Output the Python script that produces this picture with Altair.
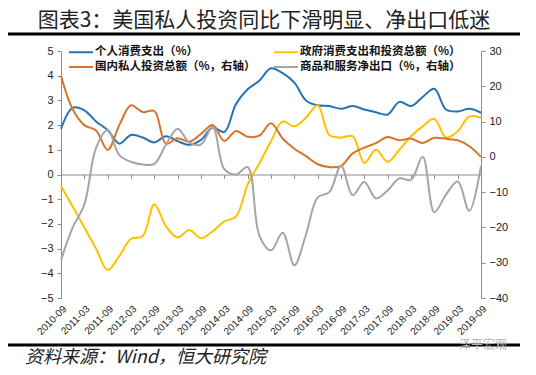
import altair as alt
import pandas as pd

title_text = "图表3：美国私人投资同比下滑明显、净出口低迷"
source_text = "资料来源：Wind，恒大研究院"
watermark_text = "泽平宏观"

dates = ["2010-09", "2010-12", "2011-03", "2011-06", "2011-09", "2011-12",
         "2012-03", "2012-06", "2012-09", "2012-12", "2013-03", "2013-06",
         "2013-09", "2013-12", "2014-03", "2014-06", "2014-09", "2014-12",
         "2015-03", "2015-06", "2015-09", "2015-12", "2016-03", "2016-06",
         "2016-09", "2016-12", "2017-03", "2017-06", "2017-09", "2017-12",
         "2018-03", "2018-06", "2018-09", "2018-12", "2019-03", "2019-06",
         "2019-09"]
tick_labels = ["2010-09", "2011-03", "2011-09", "2012-03", "2012-09", "2013-03",
               "2013-09", "2014-03", "2014-09", "2015-03", "2015-09", "2016-03",
               "2016-09", "2017-03", "2017-09", "2018-03", "2018-09", "2019-03",
               "2019-09"]
left_ticks = [-5, -4, -3, -2, -1, 0, 1, 2, 3, 4, 5]
right_ticks = [-40, -30, -20, -10, 0, 10, 20, 30]

s_pce = "个人消费支出（%）"
s_gov = "政府消费支出和投资总额（%）"
s_inv = "国内私人投资总额（%，右轴）"
s_net = "商品和服务净出口（%，右轴）"
# legend order (column-major): left column pce/inv, right column gov/net
legend_order = [s_pce, s_inv, s_gov, s_net]
legend_colors = ["#2473B8", "#D8732A", "#FFC000", "#A5A5A5"]

pce = [1.85, 2.7, 2.6, 2.15, 1.8, 1.25, 1.6, 1.5, 1.3, 1.55, 1.35, 1.2, 1.4,
       1.9, 1.72, 2.85, 3.45, 3.8, 4.3, 4.1, 3.72, 3.0, 2.8, 2.77, 2.66, 2.77,
       2.63, 2.52, 2.43, 2.94, 2.77, 3.14, 3.47, 2.63, 2.55, 2.66, 2.5]
gov = [-0.47, -1.3, -2.15, -3.0, -3.87, -3.3, -2.6, -2.5, -1.2, -2.1, -2.55,
       -2.25, -2.58, -2.3, -1.9, -1.7, -0.4, 0.45, 1.35, 2.15, 1.95, 2.3, 2.8,
       1.6, 1.5, 1.55, 0.47, 1.0, 0.52, 1.0, 1.55, 1.95, 2.25, 1.5, 1.75, 2.35,
       2.3]
inv = [23, 13.5, 9, 7.5, 2, 9, 14.6, 12.7, 13, 3.7, 5.3, 4.3, 6.5, 9, 4.5, 7.3,
       5.7, 6, 9.5, 5.2, 2.3, 0.2, -2.1, -2.9, -2.6, 1.0, 2.6, 3.9, 5.6, 4.7,
       5.2, 3.9, 5.4, 5.1, 4.7, 3.0, 0]
netexp = [-29.3, -20, -13.5, 2.5, 7.6, 0.5, -1.4, -2.2, -2.0, 3.5, 8.0, 4.0,
          3.5, 8.5, -3.5, -5.0, -2.9, -22.3, -26.5, -21.5, -30.7, -22, -11.5,
          -10, -2.5, -10.9, -7.1, -11.8, -9.5, -6.1, -6.5, 0, -15.7, -10.7, -7,
          -15.3, -2.5]

rows = []
for name, vals in [(s_pce, pce), (s_gov, gov), (s_inv, inv), (s_net, netexp)]:
    for d, v in zip(dates, vals):
        rows.append({"date": d, "series": name, "value": v})
df = pd.DataFrame(rows)

axis_col = "#8C8C8C"
num_font = "Liberation Sans"
cjk_font = "Noto Sans CJK SC"

x_enc = alt.X(
    "date:O", sort=dates,
    scale=alt.Scale(type="point", padding=0),
    axis=alt.Axis(values=tick_labels, labelAngle=-45, title=None, grid=False,
                  domainColor=axis_col, tickColor=axis_col, tickSize=4,
                  offset=-123.5, labelPadding=125, labelFont=num_font,
                  labelFontSize=10, labelColor="#222222"),
)
color_enc = alt.Color(
    "series:N",
    scale=alt.Scale(domain=legend_order, range=legend_colors),
    legend=alt.Legend(orient="none", legendX=14, legendY=-5, columns=2,
                      title=None, symbolType="M-2.4,0H2.4", symbolSize=100,
                      symbolStrokeWidth=2, labelOffset=8, labelFont=cjk_font,
                      labelFontSize=11.5, labelFontWeight="bold",
                      labelColor="#111111", rowPadding=3, columnPadding=14,
                      padding=0, labelLimit=400),
)

left = alt.Chart(df).transform_filter(
    alt.FieldOneOfPredicate(field="series", oneOf=[s_pce, s_gov])
).mark_line(interpolate="catmull-rom", strokeWidth=2).encode(
    x=x_enc,
    y=alt.Y("value:Q", scale=alt.Scale(domain=[-5, 5], nice=False, zero=False),
            axis=alt.Axis(values=left_ticks, title=None, grid=False,
                          domainColor=axis_col, tickColor=axis_col, tickSize=4,
                          labelPadding=4, labelFont=num_font, labelFontSize=11,
                          labelColor="#222222")),
    color=color_enc,
)

right = alt.Chart(df).transform_filter(
    alt.FieldOneOfPredicate(field="series", oneOf=[s_inv, s_net])
).mark_line(interpolate="catmull-rom", strokeWidth=2).encode(
    x=x_enc,
    y=alt.Y("value:Q", scale=alt.Scale(domain=[-40, 30], nice=False, zero=False),
            axis=alt.Axis(values=right_ticks, orient="right", title=None,
                          grid=False, domainColor=axis_col, tickColor=axis_col,
                          tickSize=4, labelPadding=4, labelFont=num_font,
                          labelFontSize=11, labelColor="#222222")),
    color=color_enc,
)

one = pd.DataFrame({"title": [title_text], "source": [source_text],
                    "mark": [watermark_text]})

title = alt.Chart(one).mark_text(font=cjk_font, fontSize=21, align="center",
                                 baseline="middle", color="#222222").encode(
    text="title:N", x=alt.value(203), y=alt.value(-30.5))
top_rule = alt.Chart(one).mark_rule(color="black", strokeWidth=3).encode(
    x=alt.value(-56), x2=alt.value(459), y=alt.value(-17))
bottom_rule = alt.Chart(one).mark_rule(color="black", strokeWidth=3).encode(
    x=alt.value(-56), x2=alt.value(459), y=alt.value(294))
source = alt.Chart(one).mark_text(font=cjk_font, fontSize=18, fontStyle="italic",
                                  align="left", baseline="middle",
                                  color="#222222").encode(
    text="source:N", x=alt.value(-36), y=alt.value(307))
mark = alt.Chart(one).mark_text(font=cjk_font, fontSize=12, align="left",
                                baseline="middle", color="#B5B5B5").encode(
    text="mark:N", x=alt.value(398), y=alt.value(294))

chart = alt.layer(left, right, title, top_rule, bottom_rule, source, mark).resolve_scale(
    y="independent"
).properties(
    width=420, height=247,
    padding={"left": 53, "top": 43, "right": 47, "bottom": 69},
    autosize=alt.AutoSizeParams(type="none"),
    background="white",
).configure_view(stroke="transparent")

chart.save("out.html", embed_options={"renderer": "svg", "actions": False})
